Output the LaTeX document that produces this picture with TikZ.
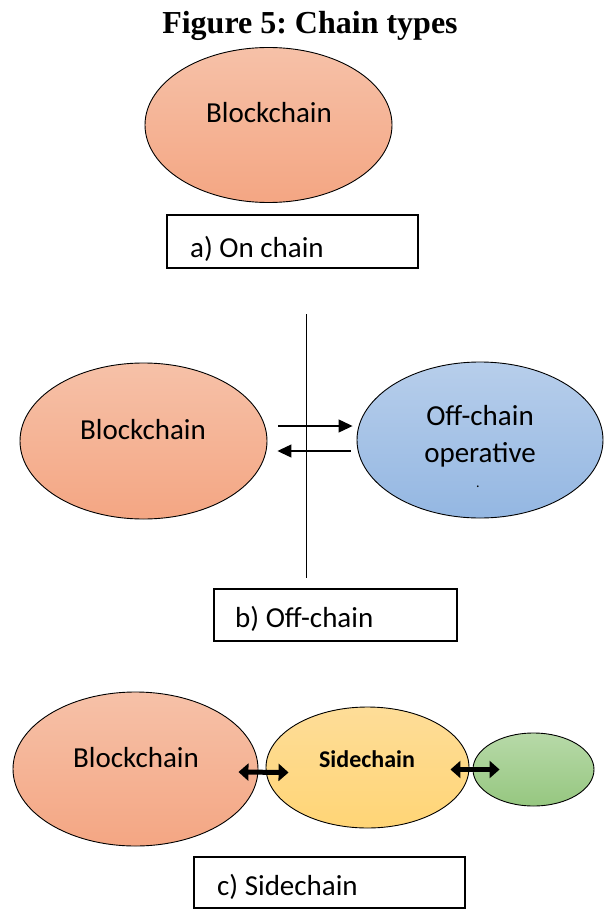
\documentclass[tikz,border=0pt]{standalone}
\usepackage{fontspec}
\setmainfont{Carlito}
\newfontfamily\titlefont{Liberation Serif}
\usetikzlibrary{shapes.geometric,arrows.meta}
\frenchspacing
\definecolor{orT}{RGB}{246,193,168}
\definecolor{orB}{RGB}{244,166,131}
\definecolor{blT}{RGB}{183,206,235}
\definecolor{blB}{RGB}{148,183,226}
\definecolor{yeT}{RGB}{254,221,152}
\definecolor{yeB}{RGB}{255,213,118}
\definecolor{grT}{RGB}{183,217,168}
\definecolor{grB}{RGB}{150,199,128}
\tikzset{
  blob/.style={ellipse, draw=black, line width=0.9pt, inner sep=0pt},
  orblob/.style={blob, top color=orT, bottom color=orB},
  blblob/.style={blob, top color=blT, bottom color=blB},
  yeblob/.style={blob, top color=yeT, bottom color=yeB},
  grblob/.style={blob, top color=grT, bottom color=grB},
  labelbox/.style={draw=black, line width=1.3pt, inner sep=0pt, fill=white},
  txt/.style={anchor=base, inner sep=0pt, font=\fontsize{29}{34}\selectfont},
  boxtxt/.style={anchor=base west, inner sep=0pt, font=\fontsize{29}{34}\selectfont},
  thinarrow/.style={line width=1.2pt, -{Triangle[length=14pt,width=13pt]}},
  fatarrow/.style={line width=5pt, {Triangle[length=10pt,width=17pt]}-{Triangle[length=10pt,width=17pt]}}
}
\begin{document}
\begin{tikzpicture}[x=1pt,y=-1pt]
\useasboundingbox (0,0) rectangle (605,912);

% Title
\node[anchor=base, inner sep=0pt, font=\titlefont\bfseries\fontsize{32}{38}\selectfont] (title) at (310,34) {\frenchspacing Figure 5: Chain types};

% a) On chain
\node[orblob, minimum width=247pt, minimum height=155pt] (bc1) at (268.5,125) {};
\node[txt] (bc1t) at (269,123) {Blockchain};
\node[labelbox, minimum width=251pt, minimum height=53pt] (boxa) at (292.5,241.5) {};
\node[boxtxt] (boxat) at (190,257) {a) On chain};

% b) Off-chain
\coordinate (ltop) at (306,314);
\coordinate (lbot) at (306,578);
\draw[line width=1pt] (ltop) -- (lbot);
\node[orblob, minimum width=247pt, minimum height=156pt] (bc2) at (143.5,441) {};
\node[txt] (bc2t) at (143,439) {Blockchain};
\node[blblob, minimum width=246pt, minimum height=156pt] (oc) at (480,440) {};
\node[txt] (oct1) at (480,425) {Off-chain};
\node[txt] (oct2) at (480,462) {operative};
\node[anchor=base, inner sep=0pt, font=\fontsize{14}{16}\selectfont] (ocdot) at (478,487) {.};
\draw[thinarrow] ([xshift=11pt,yshift=15pt]bc2.east) -- ([xshift=-4pt,yshift=14pt]oc.west);
\draw[thinarrow] ([xshift=-6pt,yshift=-11pt]oc.west) -- ([xshift=10pt,yshift=-10pt]bc2.east);
\node[labelbox, minimum width=243pt, minimum height=52pt] (boxb) at (335.5,615) {};
\node[boxtxt] (boxbt) at (235,627) {b) Off-chain};

% c) Sidechain
\node[orblob, minimum width=245pt, minimum height=154pt] (bc3) at (135.5,769) {};
\node[txt] (bc3t) at (136,767) {Blockchain};
\node[yeblob, minimum width=203pt, minimum height=121pt] (sc) at (367.5,767.5) {};
\node[anchor=base, inner sep=0pt, font=\bfseries\fontsize{24}{28}\selectfont] (sct) at (367,767) {Sidechain};
\node[grblob, minimum width=121pt, minimum height=73pt] (gr) at (533.5,769.5) {};
\draw[fatarrow] ([xshift=-20pt,yshift=-3pt]bc3.east) -- ([xshift=23pt,yshift=-5pt]sc.west);
\draw[fatarrow] ([xshift=-19pt,yshift=-2pt]sc.east) -- ([xshift=27pt,yshift=0pt]gr.west);
\node[labelbox, minimum width=271pt, minimum height=51pt] (boxc) at (329.5,882.5) {};
\node[boxtxt] (boxct) at (217,895) {c) Sidechain};
\end{tikzpicture}
\end{document}
